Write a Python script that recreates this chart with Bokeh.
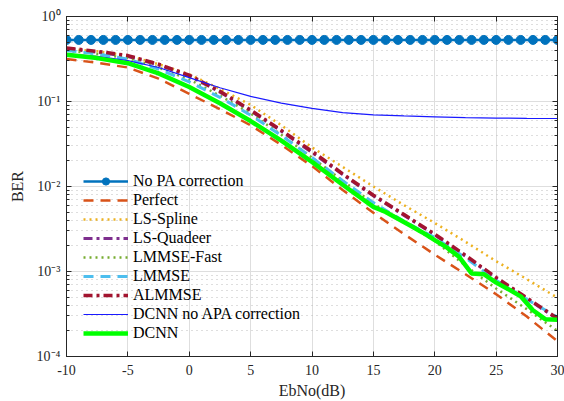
from bokeh.plotting import figure
from bokeh.models import (FixedTicker, LinearAxis, LogAxis, Legend, LegendItem,
                          CustomJSTickFormatter, Range1d)
from bokeh.embed import file_html
from bokeh.resources import INLINE

# ---------------- data ----------------
ebno_full = [-10, -9, -8, -7, -6, -5, -4, -3, -2, -1, 0, 1, 2, 3, 4, 5, 6, 7, 8, 9, 10,
             11, 12, 13, 14, 15, 16, 17, 18, 19, 20, 21, 22, 23, 24, 25, 26, 27, 28, 29, 30]
ber_no_pa = [0.53, 0.53, 0.53, 0.53, 0.53, 0.53, 0.53, 0.53, 0.53, 0.53, 0.53,
             0.53, 0.53, 0.53, 0.53, 0.53, 0.53, 0.53, 0.53, 0.53, 0.53,
             0.53, 0.53, 0.53, 0.53, 0.53, 0.53, 0.53, 0.53, 0.53, 0.53,
             0.53, 0.53, 0.53, 0.53, 0.53, 0.53, 0.53, 0.53, 0.53, 0.53]

ebno = [-10, -7.5, -5, -2.5, 0, 2.5, 5, 7.5, 10, 12.5, 15, 17.5, 20, 22.5, 25, 27.5, 30]
ber_perfect = [0.316, 0.285, 0.251, 0.186, 0.123, 0.0813, 0.0525, 0.0309, 0.0174, 0.0091,
               0.0049, 0.00275, 0.00158, 0.00093, 0.00054, 0.000295, 0.000151]
ber_ls_spline = [0.417, 0.389, 0.347, 0.275, 0.209, 0.141, 0.0912, 0.0525, 0.0288, 0.0170,
                 0.0100, 0.00603, 0.00372, 0.00224, 0.00132, 0.000813, 0.00049]
ber_ls_quadeer = [0.417, 0.380, 0.339, 0.269, 0.200, 0.129, 0.0776, 0.0447, 0.0251, 0.0138,
                  0.00776, 0.00457, 0.00269, 0.00151, 0.00083, 0.00048, 0.000275]
ber_lmmse_fast = [0.398, 0.363, 0.324, 0.251, 0.182, 0.117, 0.0724, 0.0407, 0.0219, 0.0117,
                  0.0063, 0.0038, 0.00229, 0.00117, 0.00063, 0.00036, 0.0002]
ber_lmmse = [0.398, 0.363, 0.316, 0.240, 0.170, 0.112, 0.0692, 0.0398, 0.0219, 0.0117,
             0.00646, 0.00389, 0.00251, 0.00145, 0.00079, 0.00047, 0.00029]
ber_almmse = [0.427, 0.389, 0.347, 0.275, 0.204, 0.132, 0.0794, 0.0457, 0.026, 0.0141,
              0.0079, 0.00468, 0.00275, 0.00155, 0.00085, 0.00049, 0.00028]
ber_dcnn_noapa = [0.363, 0.339, 0.302, 0.251, 0.191, 0.145, 0.115, 0.0955, 0.0832, 0.0741,
                  0.0697, 0.0676, 0.0661, 0.0646, 0.0638, 0.0634, 0.0631]

ebno_dcnn = [-10, -7.5, -5, -2.5, 0, 2.5, 5, 7.5, 10, 12.5, 15, 16, 17, 18, 19, 20,
             21, 22, 23, 24, 25, 26, 27, 28, 29, 30]
ber_dcnn = [0.355, 0.324, 0.282, 0.214, 0.148, 0.0955, 0.0589, 0.0347, 0.0195, 0.0105,
            0.00575, 0.00501, 0.00417, 0.00347, 0.00288, 0.00234, 0.00191, 0.00148,
            0.00095, 0.00093, 0.00074, 0.00062, 0.00051, 0.00035, 0.000275, 0.00027]

x_ticks = [-10, -5, 0, 5, 10, 15, 20, 25, 30]
y_ticks = [1e-4, 1e-3, 1e-2, 1e-1, 1]
y_minor = [2e-4, 3e-4, 4e-4, 5e-4, 6e-4, 7e-4, 8e-4, 9e-4,
           2e-3, 3e-3, 4e-3, 5e-3, 6e-3, 7e-3, 8e-3, 9e-3,
           2e-2, 3e-2, 4e-2, 5e-2, 6e-2, 7e-2, 8e-2, 9e-2,
           0.2, 0.3, 0.4, 0.5, 0.6, 0.7, 0.8, 0.9]

FONT = "Liberation Serif"
AX = "#262626"

p = figure(width=564, height=401, x_range=Range1d(-10, 30), y_range=Range1d(1e-4, 1),
           y_axis_type="log", output_backend="svg", toolbar_location=None,
           min_border_left=66, min_border_right=7, min_border_top=16, min_border_bottom=42)
p.background_fill_color = "white"
p.border_fill_color = "white"
p.outline_line_color = AX
p.outline_line_width = 1

yfmt = CustomJSTickFormatter(code="""
const e = Math.round(Math.log10(tick));
const sup = {'0':'\u2070','1':'\u00b9','2':'\u00b2','3':'\u00b3','4':'\u2074','5':'\u2075','-':'\u207b'};
return '10' + String(e).split('').map(c => sup[c]).join('');
""")
xfmt = CustomJSTickFormatter(code="return String(tick);")
blank = CustomJSTickFormatter(code="return ' ';")

xt = FixedTicker(ticks=x_ticks, minor_ticks=[])
yt = FixedTicker(ticks=y_ticks, minor_ticks=y_minor)

bottom = p.xaxis[0]
left = p.yaxis[0]
bottom.ticker = xt
bottom.formatter = xfmt
bottom.axis_label = "EbNo(dB)"
left.ticker = yt
left.formatter = yfmt
left.axis_label = "BER"

top = LinearAxis(ticker=xt, formatter=blank)
right = LogAxis(ticker=yt, formatter=blank)
p.add_layout(top, "above")
p.add_layout(right, "right")

for ax in [bottom, left, top, right]:
    ax.axis_line_color = AX
    ax.major_tick_line_color = AX
    ax.minor_tick_line_color = AX
    ax.major_tick_in = 5
    ax.major_tick_out = 0
    ax.minor_tick_in = 3
    ax.minor_tick_out = 0
    ax.major_label_text_font = FONT
    ax.major_label_text_font_size = "14px"
    ax.major_label_text_color = AX
    ax.axis_label_text_font = FONT
    ax.axis_label_text_font_size = "16px"
    ax.axis_label_text_font_style = "normal"
    ax.axis_label_text_color = AX
for ax in [top, right]:
    ax.major_label_text_font_size = "4px"
    ax.major_label_standoff = 0
bottom.major_label_standoff = 8
bottom.axis_label_standoff = 4
left.major_label_standoff = 6
left.axis_label_standoff = 8

p.xgrid.ticker = xt
p.ygrid.ticker = yt
p.xgrid.grid_line_color = "#dedede"
p.ygrid.grid_line_color = "#dedede"
p.ygrid.minor_grid_line_color = "#bdbdbd"
p.ygrid.minor_grid_line_dash = "1 4"

r_nopa_l = p.line(ebno_full, ber_no_pa, line_color="#0072BD", line_width=2.5)
r_nopa_m = p.scatter(ebno_full, ber_no_pa, size=9, fill_color="#0072BD", line_color="#0072BD")
r_perf = p.line(ebno, ber_perfect, line_color="#D95319", line_width=2.5, line_dash="10 7")
r_spl = p.line(ebno, ber_ls_spline, line_color="#EDB120", line_width=2.5, line_dash="2 4")
r_qua = p.line(ebno, ber_ls_quadeer, line_color="#7E2F8E", line_width=3, line_dash="9 4 3 4")
r_fast = p.line(ebno, ber_lmmse_fast, line_color="#77AC30", line_width=2.5, line_dash="2 4")
r_lm = p.line(ebno, ber_lmmse, line_color="#4DBEEE", line_width=3, line_dash="10 7")
r_alm = p.line(ebno, ber_almmse, line_color="#A2142F", line_width=3.5, line_dash="9 4 3 4")
r_noapa = p.line(ebno, ber_dcnn_noapa, line_color="#1a1aff", line_width=1.2)
r_dcnn = p.line(ebno_dcnn, ber_dcnn, line_color="#00FF00", line_width=4.5)

items = [
    LegendItem(label="No PA correction", renderers=[r_nopa_l, r_nopa_m]),
    LegendItem(label="Perfect", renderers=[r_perf]),
    LegendItem(label="LS-Spline", renderers=[r_spl]),
    LegendItem(label="LS-Quadeer", renderers=[r_qua]),
    LegendItem(label="LMMSE-Fast", renderers=[r_fast]),
    LegendItem(label="LMMSE", renderers=[r_lm]),
    LegendItem(label="ALMMSE", renderers=[r_alm]),
    LegendItem(label="DCNN no APA correction", renderers=[r_noapa]),
    LegendItem(label="DCNN", renderers=[r_dcnn]),
]
legend = Legend(items=items, location=(17, 14), border_line_alpha=0,
                background_fill_alpha=0, padding=0, margin=0, spacing=1,
                glyph_width=45, glyph_height=18, label_height=18, label_standoff=5,
                label_text_font=FONT, label_text_font_size="16px", label_text_color="black")
p.add_layout(legend)

open("out.html", "w", encoding="utf-8").write(file_html(p, INLINE))
